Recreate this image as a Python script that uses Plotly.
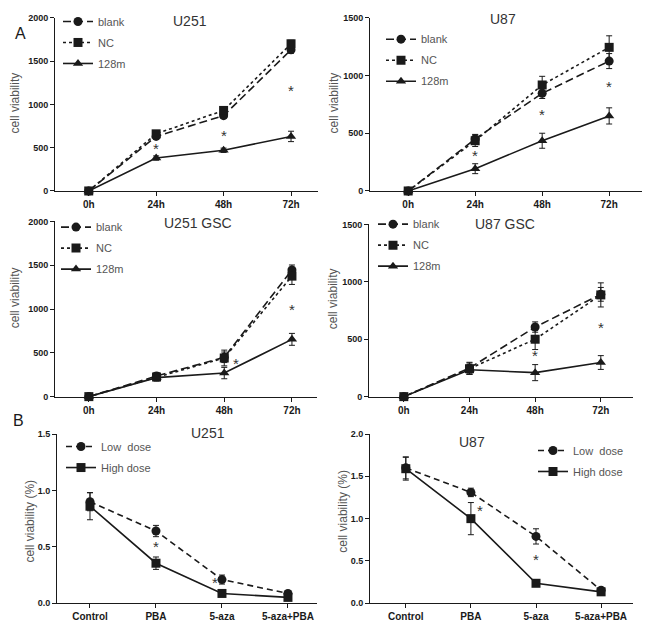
import plotly.graph_objects as go

W, H = 648, 624
FONT = "Liberation Sans, Arial, sans-serif"

time_labels = ["0h", "24h", "48h", "72h"]
treat_labels = ["Control", "PBA", "5-aza", "5-aza+PBA"]

# Panel A1: U251
u251_blank = [0, 630, 870, 1630]
u251_blank_err = [0, 30, 30, 40]
u251_nc = [0, 660, 930, 1700]
u251_nc_err = [0, 30, 40, 40]
u251_128m = [0, 380, 470, 630]
u251_128m_err = [0, 25, 25, 60]
u251_star_x = [1, 2, 3]
u251_star_y = [490, 635, 1160]

# Panel A2: U87
u87_blank = [0, 450, 846, 1125]
u87_blank_err = [0, 40, 45, 65]
u87_nc = [0, 435, 918, 1244]
u87_nc_err = [0, 50, 75, 100]
u87_128m = [0, 193, 435, 650]
u87_128m_err = [0, 43, 65, 70]
u87_star_x = [1, 2, 3]
u87_star_y = [310, 660, 905]

# Panel A3: U251 GSC
u251g_blank = [0, 235, 449, 1447]
u251g_blank_err = [0, 40, 60, 56]
u251g_nc = [0, 224, 441, 1376]
u251g_nc_err = [0, 40, 90, 95]
u251g_128m = [0, 217, 269, 654]
u251g_128m_err = [0, 40, 65, 68]
u251g_star_x = [2.17, 3]
u251g_star_y = [380, 1000]

# Panel A4: U87 GSC
u87g_blank = [0, 249, 606, 891]
u87g_blank_err = [0, 50, 45, 60]
u87g_nc = [0, 243, 500, 886]
u87g_nc_err = [0, 50, 90, 105]
u87g_128m = [0, 234, 209, 297]
u87g_128m_err = [0, 40, 70, 60]
u87g_star_x = [2, 3]
u87g_star_y = [355, 600]

# Panel B1: U251
b_u251_low = [0.90, 0.64, 0.21, 0.087]
b_u251_low_err = [0.08, 0.05, 0.04, 0.02]
b_u251_high = [0.86, 0.355, 0.087, 0.052]
b_u251_high_err = [0.12, 0.055, 0.015, 0.015]
b_u251_star_x = [1, 1.89]
b_u251_star_y = [0.50, 0.18]

# Panel B2: U87
b_u87_low = [1.60, 1.31, 0.79, 0.154]
b_u87_low_err = [0.13, 0.05, 0.09, 0.03]
b_u87_high = [1.59, 1.00, 0.236, 0.135]
b_u87_high_err = [0.135, 0.19, 0.03, 0.02]
b_u87_star_x = [1.14, 2]
b_u87_star_y = [1.10, 0.52]

INK = "#1a1a1a"
GREY = "#555555"

def px_x(p):
    return p / W

def px_y(p):
    return 1 - p / H

panels = [
    dict(name="U251", cats=time_labels, left=55, right=318, top=13, bottom=189,
         xr=[-0.5, 3.4], yr=[0, 2000], dtick=500,
         series=[("blank", u251_blank, u251_blank_err, "circle", "8px,4px"),
                 ("NC", u251_nc, u251_nc_err, "square", "3px,3px"),
                 ("128m", u251_128m, u251_128m_err, "triangle-up", "solid")],
         stars=(u251_star_x, u251_star_y),
         title=(190, 16), ytitle=("cell viability", 15, 100),
         legend=(58, 2)),
    dict(name="U87", cats=time_labels, left=370, right=642, top=13, bottom=189,
         xr=[-0.57, 3.49], yr=[0, 1500], dtick=500,
         series=[("blank", u87_blank, u87_blank_err, "circle", "8px,4px"),
                 ("NC", u87_nc, u87_nc_err, "square", "3px,3px"),
                 ("128m", u87_128m, u87_128m_err, "triangle-up", "solid")],
         stars=(u87_star_x, u87_star_y),
         title=(503, 14), ytitle=("cell viability", 334, 100),
         legend=(381, 20)),
    dict(name="U251 GSC", cats=time_labels, left=55, right=317, top=220, bottom=398,
         xr=[-0.5, 3.37], yr=[0, 2000], dtick=500,
         series=[("blank", u251g_blank, u251g_blank_err, "circle", "8px,4px"),
                 ("NC", u251g_nc, u251g_nc_err, "square", "3px,3px"),
                 ("128m", u251g_128m, u251g_128m_err, "triangle-up", "solid")],
         stars=(u251g_star_x, u251g_star_y),
         title=(198, 222), ytitle=("cell viability", 15, 298),
         legend=(56, 211)),
    dict(name="U87 GSC", cats=time_labels, left=369, right=633, top=223, bottom=398,
         xr=[-0.53, 3.49], yr=[0, 1500], dtick=500,
         series=[("blank", u87g_blank, u87g_blank_err, "circle", "8px,4px"),
                 ("NC", u87g_nc, u87g_nc_err, "square", "3px,3px"),
                 ("128m", u87g_128m, u87g_128m_err, "triangle-up", "solid")],
         stars=(u87g_star_x, u87g_star_y),
         title=(505, 223), ytitle=("cell viability", 333, 298),
         legend=(373, 208)),
    dict(name="U251", cats=treat_labels, left=57, right=317, top=436, bottom=608,
         xr=[-0.5, 3.44], yr=[0, 1.5], dtick=0.5,
         series=[("Low  dose", b_u251_low, b_u251_low_err, "circle", "6px,4px"),
                 ("High dose", b_u251_high, b_u251_high_err, "square", "solid")],
         stars=(b_u251_star_x, b_u251_star_y),
         title=(208, 435), ytitle=("cell viability (%)", 30, 525),
         legend=(61, 434)),
    dict(name="U87", cats=treat_labels, left=370, right=633, top=436, bottom=608,
         xr=[-0.55, 3.49], yr=[0, 2.0], dtick=0.5,
         series=[("Low  dose", b_u87_low, b_u87_low_err, "circle", "6px,4px"),
                 ("High dose", b_u87_high, b_u87_high_err, "square", "solid")],
         stars=(b_u87_star_x, b_u87_star_y),
         title=(472, 444), ytitle=("cell viability (%)", 343, 515),
         legend=(533, 438)),
]

fig = go.Figure()
layout = dict(
    width=W, height=H, margin=dict(l=0, r=0, t=0, b=0),
    paper_bgcolor="white", plot_bgcolor="white",
    font=dict(family=FONT, color=INK),
    showlegend=True,
)
annotations = []

for i, p in enumerate(panels, start=1):
    xa = "x" if i == 1 else f"x{i}"
    ya = "y" if i == 1 else f"y{i}"
    lg = "legend" if i == 1 else f"legend{i}"
    for k, (lab, vals, errs, sym, dash) in enumerate(p["series"]):
        fig.add_trace(go.Scatter(
            x=list(range(len(p["cats"]))), y=vals, name=lab,
            mode="lines+markers", xaxis=xa, yaxis=ya, legend=lg,
            legendgroup=f"p{i}s{k}",
            line=dict(color=INK, width=1.6, dash=dash),
            marker=dict(symbol=sym, size=9, color=INK),
            error_y=dict(type="data", array=errs, visible=True, color=INK,
                         thickness=1, width=3),
            cliponaxis=False,
        ))
    xkey = "xaxis" if i == 1 else f"xaxis{i}"
    ykey = "yaxis" if i == 1 else f"yaxis{i}"
    layout[xkey] = dict(
        domain=[px_x(p["left"]), px_x(p["right"])], range=p["xr"], anchor=ya,
        tickmode="array", tickvals=list(range(len(p["cats"]))), ticktext=p["cats"],
        showline=True, linecolor=INK, linewidth=1, ticks="outside", ticklen=4,
        tickcolor=INK, showgrid=False, zeroline=False,
        tickfont=dict(size=10, family=FONT, color=INK, weight="bold"),
    )
    layout[ykey] = dict(
        domain=[px_y(p["bottom"]), px_y(p["top"])], range=p["yr"], anchor=xa,
        dtick=p["dtick"], tick0=0,
        tickformat=".1f" if p["dtick"] < 1 else "d",
        showline=True, linecolor=INK, linewidth=1, ticks="outside", ticklen=4,
        tickcolor=INK, showgrid=False, zeroline=False,
        tickfont=dict(size=9, family=FONT, color=INK, weight="bold"),
    )
    lx, ly = p["legend"]
    layout[lg] = dict(
        x=px_x(lx), y=px_y(ly), xanchor="left", yanchor="top",
        bgcolor="rgba(0,0,0,0)", font=dict(size=11, family=FONT, color=GREY),
        itemwidth=30, tracegroupgap=2,
    )
    tx, ty = p["title"]
    annotations.append(dict(text=p["name"], x=px_x(tx), y=px_y(ty), xref="paper",
                            yref="paper", showarrow=False, xanchor="center",
                            yanchor="middle", font=dict(size=14, color="#333333")))
    yt, yx, yy = p["ytitle"]
    annotations.append(dict(text=yt, x=px_x(yx), y=px_y(yy), xref="paper",
                            yref="paper", showarrow=False, textangle=-90,
                            xanchor="center", yanchor="middle",
                            font=dict(size=12, color=GREY)))
    sx, sy = p["stars"]
    for a, b in zip(sx, sy):
        annotations.append(dict(text="*", x=a, y=b, xref=xa, yref=ya,
                                showarrow=False, xanchor="center", yanchor="middle",
                                font=dict(size=15, color="#333333")))

annotations.append(dict(text="A", x=px_x(13), y=px_y(18), xref="paper", yref="paper",
                        showarrow=False, font=dict(size=16, color=INK)))
annotations.append(dict(text="B", x=px_x(11), y=px_y(433), xref="paper", yref="paper",
                        showarrow=False, font=dict(size=16, color=INK)))
layout["annotations"] = annotations
fig.update_layout(**layout)
fig.write_html("out.html",
               config={"displayModeBar": False},
               post_script="document.body.style.margin='0';document.body.style.overflow='hidden';")
